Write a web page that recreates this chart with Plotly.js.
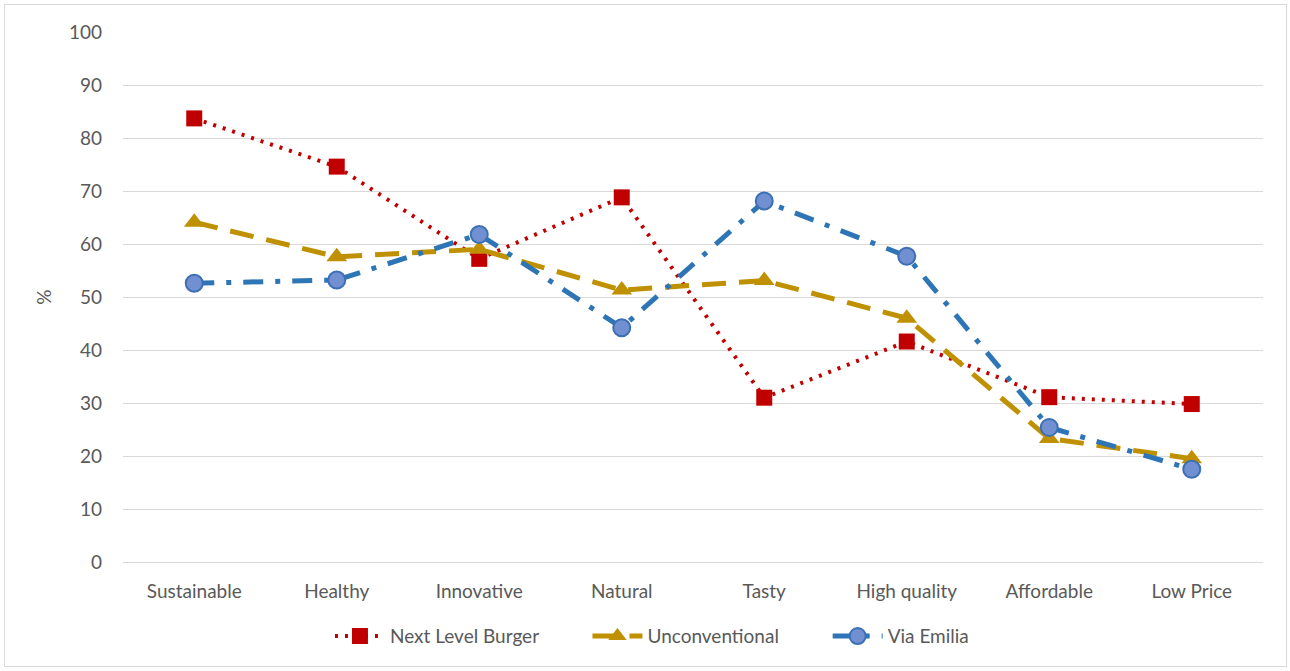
<!DOCTYPE html>
<html>
<head>
<meta charset="utf-8">
<script src="https://cdn.plot.ly/plotly-3.0.1.min.js"></script>
<style>
  html, body { margin: 0; padding: 0; background: #fff; }
  #wrap { position: relative; width: 1290px; height: 671px; }
  #chart { width: 1290px; height: 671px; }
  #frame { position: absolute; left: 4px; top: 4px; width: 1281px; height: 661px;
           border: 1px solid #d9d9d9; pointer-events: none; }
</style>
</head>
<body>
<div id="wrap">
  <div id="chart"></div>
  <div id="frame"></div>
</div>
<script>
// Attribute ratings (%) per product
const categories = ["Sustainable", "Healthy", "Innovative", "Natural", "Tasty", "High quality", "Affordable", "Low Price"];
const seriesNames = ["Next Level Burger", "Unconventional", "Via Emilia"];
const nextLevelBurger = [83.7, 74.6, 57.2, 68.8, 31.0, 41.6, 31.1, 29.8];
const unconventional  = [64.1, 57.6, 59.0, 51.3, 53.1, 46.0, 23.3, 19.5];
const viaEmilia       = [52.6, 53.2, 61.8, 44.2, 68.1, 57.7, 25.4, 17.5];
const yTicks = [0, 10, 20, 30, 40, 50, 60, 70, 80, 90, 100];

const FONT = "Lato, 'Open Sans', sans-serif";
const GREY = "#595959";
const SIZE = 19;
// non-breaking spaces widen the gap between horizontal legend entries
const PAD = "\u00a0".repeat(9);

const traces = [
  {
    name: seriesNames[0] + PAD, x: categories, y: nextLevelBurger,
    type: "scatter", mode: "lines+markers",
    line: { color: "#C00000", width: 4, dash: "3px,7px" },
    marker: { symbol: "square", size: 16, color: "#C00000" }
  },
  {
    name: seriesNames[1] + PAD, x: categories, y: unconventional,
    type: "scatter", mode: "lines+markers",
    line: { color: "#BF9000", width: 5, dash: "24px,13px" },
    marker: { symbol: "triangle-up", size: 18, color: "#BF9000" }
  },
  {
    name: seriesNames[2], x: categories, y: viaEmilia,
    type: "scatter", mode: "lines+markers",
    line: { color: "#2E75B6", width: 5, dash: "20px,12px,5px,12px" },
    marker: { symbol: "circle", size: 17, color: "#7190D2", line: { color: "#3D6FB5", width: 2 } }
  }
];

const layout = {
  width: 1290, height: 671,
  margin: { l: 123, r: 27, t: 32, b: 109 },
  paper_bgcolor: "#fff", plot_bgcolor: "#fff",
  font: { family: FONT, size: SIZE, color: GREY },
  showlegend: true,
  legend: {
    orientation: "h", x: 0.464, xanchor: "center", y: -0.14, yanchor: "middle",
    font: { family: FONT, size: SIZE, color: GREY }, itemwidth: 50
  },
  xaxis: {
    type: "category", range: [-0.5, 7.5],
    showgrid: false, showline: false, zeroline: false,
    ticks: "", ticklabelstandoff: 16,
    tickfont: { family: FONT, size: SIZE, color: GREY }
  },
  yaxis: {
    range: [0, 100], tickvals: yTicks, ticktext: yTicks.map(String),
    showgrid: true, gridcolor: "#d9d9d9", gridwidth: 1,
    zeroline: true, zerolinecolor: "#d9d9d9", zerolinewidth: 1,
    showline: false, ticks: "", ticklabelstandoff: 20,
    tickfont: { family: FONT, size: SIZE, color: GREY },
    title: { text: "%", standoff: 12, font: { family: FONT, size: SIZE, color: GREY } }
  }
};

Plotly.newPlot("chart", traces, layout, { displayModeBar: false, staticPlot: true });
</script>
</body>
</html>
